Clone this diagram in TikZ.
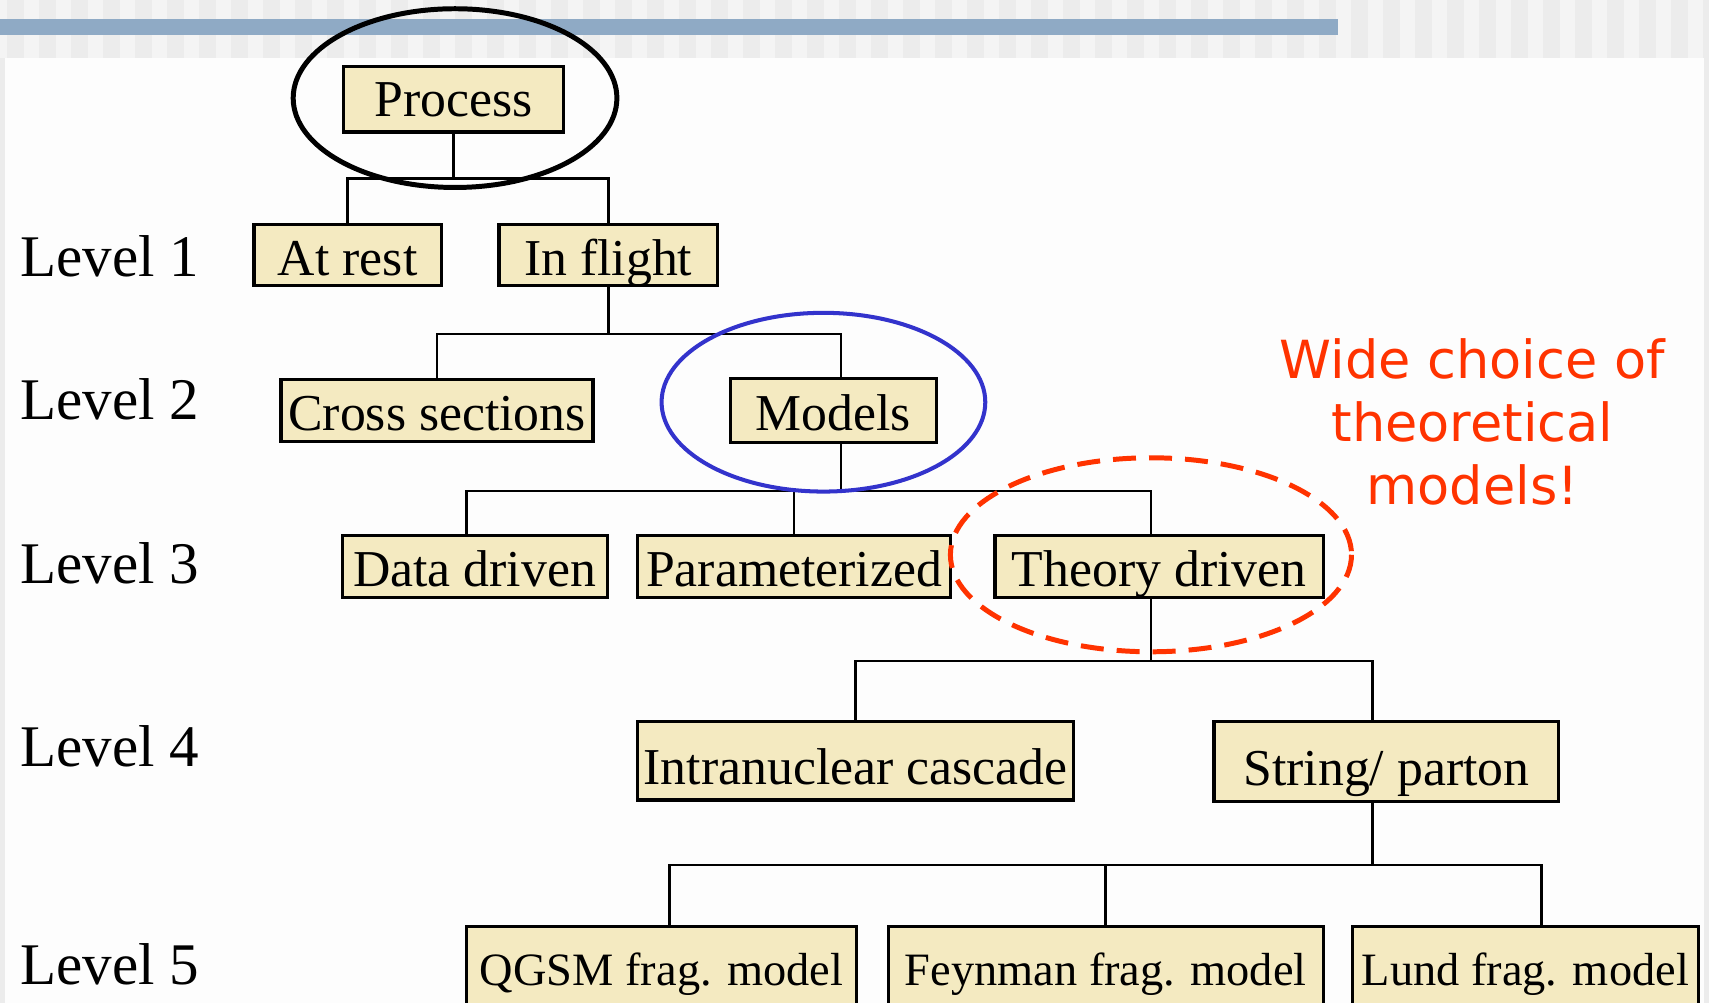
\documentclass[tikz,border=0pt]{standalone}
\usepackage{fontspec}
\setmainfont{Liberation Serif}
\newfontfamily\notefont{DejaVu Sans}
\usetikzlibrary{calc}
\definecolor{boxfill}{HTML}{F4EAC1}
\definecolor{ringblue}{HTML}{3333CC}
\definecolor{notered}{HTML}{FF3300}
\definecolor{bandblue}{HTML}{8FAAC5}
\definecolor{stripedark}{HTML}{ECECEC}
\definecolor{stripelight}{HTML}{F4F4F4}
\definecolor{panel}{HTML}{FDFDFD}
\begin{document}
\begin{tikzpicture}[x=0.01cm,y=-0.01cm,
	box/.style={draw,fill=boxfill,line width=0.85pt,inner sep=0pt,minimum height=0.57cm,text height=10.5pt,text depth=0pt,font=\fontsize{13.5}{16}\selectfont},
	leaf/.style={box,minimum height=0.72cm,text height=10.2pt,font=\fontsize{12.1}{14.5}\selectfont},
	link/.style={line width=0.7pt},
	level/.style={anchor=base west,inner sep=0pt,font=\fontsize{15.4}{18}\selectfont}]
	\useasboundingbox (0,0) rectangle (1568,920);
	\clip (0,0) rectangle (1568,920);
	% background
	\fill[stripelight] (0,0) rectangle (1568,53);
	\foreach \i in {0,...,53} \fill[stripedark] ({6.4+29.36*\i},0) rectangle ++(15.6,53);
	\fill[bandblue] (0,17.4) rectangle (1228,32);
	\fill[stripedark] (0,53) rectangle (1568,920);
	\fill[panel] (5,53) rectangle (1563,920);
	% levels
	\foreach \lv/\yy in {1/254,2/385,3/535,4/703.5,5/903}
		\node[level] (level\lv) at (18,\yy) {Level \lv};
	% tree
	\node[box,minimum width=2.02cm,minimum height=0.60cm,text height=9pt] (process) at (416,91) {Process};
	\node[box,minimum width=1.72cm,minimum height=0.56cm] (atrest) at (319,234) {At rest};
	\node[box,minimum width=2.00cm,minimum height=0.56cm] (inflight) at (558,234) {In flight};
	\node[box,minimum width=2.86cm] (cross) at (401,376.5) {Cross sections};
	\node[box,minimum width=1.89cm,minimum height=0.59cm] (models) at (764.5,376.5) {Models};
	\node[box,minimum width=2.43cm] (datadriven) at (435.5,519.5) {Data driven};
	\node[box,minimum width=2.87cm] (param) at (728.5,519.5) {Parameterized};
	\node[box,minimum width=3.01cm] (theory) at (1063.5,519.5) {Theory driven};
	\node[box,minimum width=4.00cm,minimum height=0.72cm,text height=12.5pt] (intra) at (785,698) {Intranuclear cascade};
	\node[box,minimum width=3.16cm,minimum height=0.73cm,text height=12.5pt] (string) at (1272,698.5) {String/ parton};
	\node[leaf,minimum width=3.58cm] (qgsm) at (607,886) {QGSM frag. model};
	\node[leaf,minimum width=3.99cm] (feynman) at (1014.5,886) {Feynman frag. model};
	\node[leaf,minimum width=3.17cm] (lund) at (1399.5,886) {Lund frag. model};
	\draw[link] (process.south) -- ++(0,41) coordinate (bus1);
	\draw[link] (atrest.north) |- (bus1) -| (inflight.north);
	\draw[link] (inflight.south) -- ++(0,43) coordinate (bus2);
	\draw[link] (cross.north) |- (bus2) -| ($(models.north)+(7,0)$);
	\draw[link] ($(models.south)+(7,0)$) -- ++(0,43) coordinate (bus3);
	\draw[link] ($(datadriven.north)+(-7.5,0)$) |- (bus3) -| ($(theory.north)+(-7.5,0)$);
	\draw[link] (param.north) -- (param.north |- bus3);
	\draw[link] ($(theory.south)+(-7.5,0)$) -- ++(0,57) coordinate (bus4);
	\draw[link] (intra.north) |- (bus4) -| ($(string.north)+(-13,0)$);
	\draw[link] ($(string.south)+(-13,0)$) -- ++(0,57) coordinate (bus5);
	\draw[link] ($(qgsm.north)+(7,0)$) |- (bus5) -| ($(lund.north)+(15,0)$);
	\draw[link] (feynman.north) -- (feynman.north |- bus5);
	% rings
	\draw[line width=1.3pt] (417.5,90) ellipse [x radius=148.5, y radius=82];
	\draw[ringblue,line width=1.05pt] (755.5,369) ellipse [x radius=148.5, y radius=82];
	\draw[notered,line width=1.3pt,dash pattern=on 6pt off 3.4pt] (1056,509) ellipse [x radius=184, y radius=89];
	\node[text=notered,font=\notefont\fontsize{13.7}{16.5}\selectfont,align=center] (note) at (1351,387) {Wide choice of\\theoretical\\models!};
\end{tikzpicture}
\end{document}
